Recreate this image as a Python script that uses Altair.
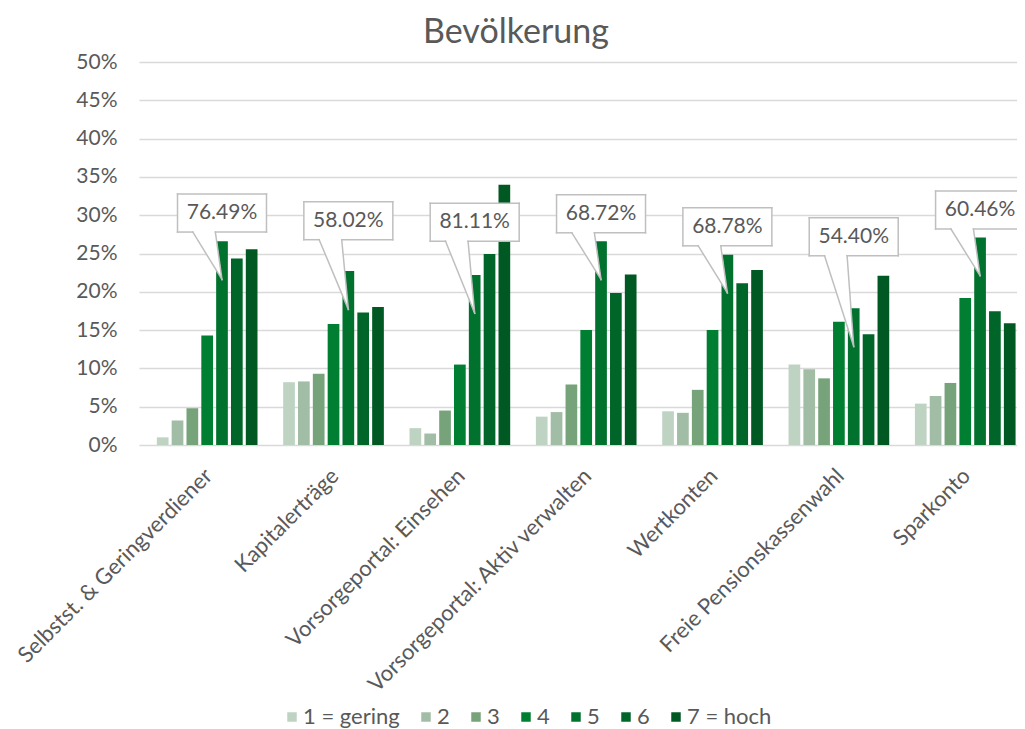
import json
import altair as alt
import pandas as pd

# ---------------- data ----------------
categories = [
    "Selbstst. & Geringverdiener",
    "Kapitalerträge",
    "Vorsorgeportal: Einsehen",
    "Vorsorgeportal: Aktiv verwalten",
    "Wertkonten",
    "Freie Pensionskassenwahl",
    "Sparkonto",
]
series = ["1 = gering", "2", "3", "4", "5", "6", "7 = hoch"]
colors = ["#bfd3c3", "#a2bda5", "#77a37b", "#007f32", "#00722e", "#006529", "#005823"]

s1 = [1.0, 8.2, 2.2, 3.7, 4.4, 10.5, 5.4]
s2 = [3.2, 8.3, 1.5, 4.3, 4.2, 9.9, 6.4]
s3 = [4.8, 9.3, 4.5, 7.9, 7.2, 8.7, 8.1]
s4 = [14.3, 15.8, 10.5, 15.0, 15.0, 16.1, 19.2]
s5 = [26.6, 22.7, 22.2, 26.6, 24.85, 17.85, 27.1]
s6 = [24.35, 17.3, 24.95, 19.85, 21.1, 14.45, 17.45]
s7 = [25.54, 18.02, 33.96, 22.27, 22.83, 22.1, 15.91]
series_values = [s1, s2, s3, s4, s5, s6, s7]

top3_share = [76.49, 58.02, 81.11, 68.72, 68.78, 54.40, 60.46]   # callout texts (5+6+7)
callout_level = [27.8, 26.8, 26.6, 27.7, 26.0, 24.7, 28.2]       # callout box bottom, in %
y_ticks = list(range(0, 51, 5))

# ---------------- layout / style ----------------
W, H = 878, 383
PX_PER_CAT = 127.8
X_MAX = W / PX_PER_CAT
Y_MAX = 50.0
PX_PER_PCT = H / Y_MAX
BAR_STEP = 15.0 / PX_PER_CAT
BAR_W = 11.7
TEXT = "#595959"
FONT = "Lato"
BORDER = "#bfbfbf"

BOX_HALF = 45.0 / PX_PER_CAT
BOX_H = 38.0 / PX_PER_PCT
PTR_L = -29.5 / PX_PER_CAT
PTR_R = -6.7 / PX_PER_CAT
TIP_DROP = 5.0

# ---------------- tables ----------------
rows = []
for ci, cat in enumerate(categories):
    for si, ser in enumerate(series):
        rows.append({
            "cat": cat,
            "series": ser,
            "value": series_values[si][ci],
            "xpos": ci + 0.5 + (si - 3) * BAR_STEP,
        })
bars_df = pd.DataFrame(rows)

boxes, tris, segs, texts = [], [], [], []
for ci, cat in enumerate(categories):
    cx = ci + 0.5 + (4 - 3) * BAR_STEP          # centre of bar "5"
    yb = callout_level[ci]
    yt = yb + BOX_H
    xl, xr = cx - BOX_HALF, cx + BOX_HALF
    pl, pr = cx + PTR_L, cx + PTR_R
    ytip = s5[ci] - TIP_DROP
    boxes.append({"cat": cat, "x": xl, "x2": xr, "y": yb, "y2": yt})
    tris.append({"cat": cat, "y": yb + 0.15, "x": pl - 0.002, "x2": pr + 0.002})
    tris.append({"cat": cat, "y": ytip, "x": cx, "x2": cx})
    for (a, b, c, d) in [
        (xl, yb, xl, yt), (xl, yt, xr, yt), (xr, yt, xr, yb),
        (xl, yb, pl, yb), (pr, yb, xr, yb),
        (pl, yb, cx, ytip), (pr, yb, cx, ytip),
    ]:
        segs.append({"cat": cat, "x": a, "y": b, "x2": c, "y2": d})
    texts.append({"cat": cat, "x": cx, "y": yb + BOX_H / 2,
                  "label": f"{top3_share[ci]:.2f}%"})

boxes_df = pd.DataFrame(boxes)
tris_df = pd.DataFrame(tris)
segs_df = pd.DataFrame(segs)
texts_df = pd.DataFrame(texts)

xscale = alt.Scale(domain=[0, X_MAX], nice=False, zero=False)
yscale = alt.Scale(domain=[0, Y_MAX], nice=False)

label_expr = "%s[floor(datum.value)]" % json.dumps(categories, ensure_ascii=False)

x_axis = alt.Axis(values=[i + 0.5 for i in range(len(categories))],
                  labelExpr=label_expr, labelAngle=-45,
                  labelAlign="right", labelBaseline="middle",
                  labelPadding=27, labelOffset=1, ticks=False, domain=False,
                  grid=False, title=None, labelFont=FONT, labelFontSize=22,
                  labelColor=TEXT, labelOverlap=False, labelBound=False,
                  labelFlush=False, labelLimit=0)
y_axis = alt.Axis(values=y_ticks, labelExpr="datum.value + '%'", ticks=False,
                  domain=False, grid=True, gridColor="#d9d9d9", gridWidth=1.3,
                  title=None, labelFont=FONT, labelFontSize=21, labelColor=TEXT,
                  labelPadding=22, labelOverlap=False, tickCount=len(y_ticks))


def X(field):
    return alt.X(field, scale=xscale, axis=x_axis, title=None)


def Y(field):
    return alt.Y(field, scale=yscale, axis=y_axis, title=None)


bars = alt.Chart(bars_df).mark_bar(width=BAR_W).encode(
    x=X("xpos:Q"),
    y=Y("value:Q"),
    color=alt.Color("series:N", scale=alt.Scale(domain=series, range=colors),
                    legend=alt.Legend(title=None, orient="none",
                                      direction="horizontal", legendX=142,
                                      legendY=644, symbolType="square",
                                      symbolSize=90, symbolStrokeWidth=0,
                                      labelFont=FONT, labelFontSize=22,
                                      labelColor=TEXT, labelOffset=0,
                                      columnPadding=15)),
)

box_fill = alt.Chart(boxes_df).mark_rect(fill="white").encode(
    x=X("x:Q"), x2="x2:Q", y=Y("y:Q"), y2="y2:Q",
)

tri_fill = alt.Chart(tris_df).mark_area(orient="horizontal", fill="white").encode(
    y=Y("y:Q"), x=X("x:Q"), x2="x2:Q", detail="cat:N",
)

borders = alt.Chart(segs_df).mark_rule(color=BORDER, strokeWidth=1.5,
                                       strokeCap="square").encode(
    x=X("x:Q"), x2="x2:Q", y=Y("y:Q"), y2="y2:Q",
)

labels = alt.Chart(texts_df).mark_text(font=FONT, fontSize=21, color=TEXT,
                                       baseline="middle", align="center").encode(
    x=X("x:Q"), y=Y("y:Q"), text="label:N",
)

chart = alt.layer(bars, box_fill, tri_fill, borders, labels).properties(
    width=W, height=H,
    autosize=alt.AutoSizeParams(type="none"),
    padding={"left": 131, "top": 54, "right": 0, "bottom": 284},
    title=alt.TitleParams("Bevölkerung", font=FONT, fontSize=34, color=TEXT,
                          fontWeight="normal", anchor="middle", frame="group",
                          dx=-62, offset=1),
).configure_view(stroke=None)

chart.save("out.html", embed_options={"renderer": "svg", "actions": False})
